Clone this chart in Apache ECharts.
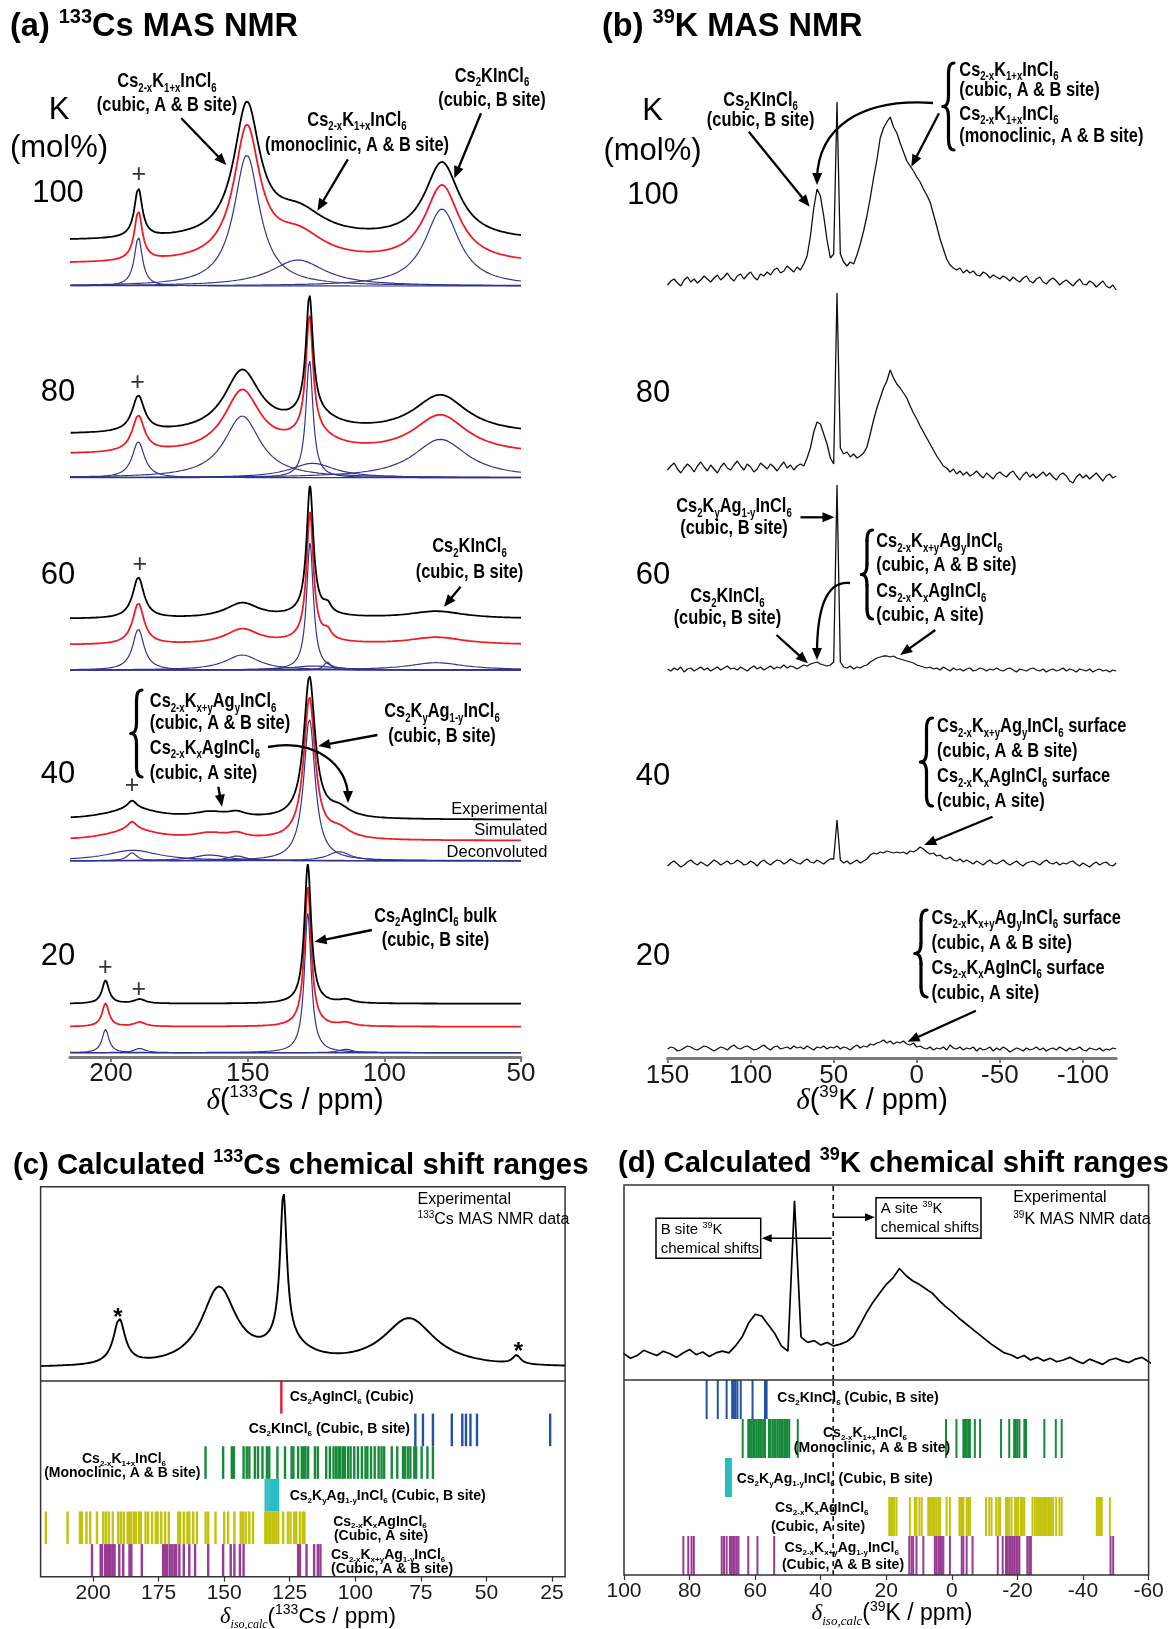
<!DOCTYPE html>
<html><head><meta charset="utf-8">
<script src="https://cdn.jsdelivr.net/npm/echarts@6/dist/echarts.min.js"></script>
<style>html,body{margin:0;padding:0;background:#fff;}#c{width:1169px;height:1629px;}</style>
</head><body><div id="c"></div>
<script>
// ===================== DATA =====================
const kComposition = ['100', '80', '60', '40', '20'];   // K content (mol%)

// 133Cs deconvolution components: [shift ppm, FWHM ppm, height]
const csPeaks100 = [[190, 3.5, 49], [150.3, 11.4, 131], [131.6, 24, 26], [78.9, 15.2, 77]];
const csPeaks80  = [[190, 5.4, 36], [152, 16, 61.7], [127.4, 3.1, 117.7], [126.2, 20, 14.4], [79.5, 24, 38.4]];
const csPeaks60  = [[190, 5, 41], [152, 15, 15], [127.2, 3, 127], [120.8, 3, 8], [126, 20, 4], [80.9, 25, 7.3]];
const csPeaks40  = [[192.3, 4, 8], [192, 23, 10.4], [163.8, 15, 5.7], [154, 8, 4.7], [127.4, 5, 141.4], [116.5, 10, 9]];
const csPeaks20  = [[202, 3, 23.3], [189.5, 5, 4.3], [128, 3, 139.3], [114, 6, 3.4]];
const csSideband = [[38.5, 3.5, 7]];          // extra spinning sideband seen in panel (c)

// 39K spectra: intensities every 2 ppm from 150 to -120 ppm
const kGridStart = 150, kGridStep = 2;
const kSpec100 = [3,7,9,5,2,8,11,6,9,5, 8,12,9,6,10,13,8,11,15,10, 7,12,14,9,13,16,11,8,14,12, 16,13,18,20,15,17,22,19,16,21,
  18,24,32,52,80,99,92,72,48,30, 34,186,34,26,22,26,24,33,44,57, 72,90,110,128,150,160,166,171,161,155, 145,136,127,122,117,111,106,99,93,86,
  74,62,49,39,29,23,20,18,20,15, 18,15,17,13,12,16,14,10,13,11, 9,12,10,7,11,8,6,10,12,7, 5,9,11,6,4,8,10,7,3,6, 8,5,2,6,9,4,3,7,5,1, 4,7,2,0,3,-2];
const kSpec80 = [8,12,15,9,5,10,14,11,6,12, 16,11,7,13,9,5,11,15,10,8, 13,17,12,8,14,11,6,9,15,12, 9,14,11,7,12,16,10,13,8,12,
  14,12,20,30,46,56,54,44,34,20, 14,185,30,24,26,21,24,20,22,25, 31,44,58,70,80,90,97,108,100,94, 90,85,80,72,65,59,52,46,40,34,
  28,22,17,12,10,6,9,4,7,3, 6,2,4,7,3,0,5,2,-1,4, 6,3,1,5,7,2,-2,3,6,1, 4,0,3,6,2,5,1,-2,3,5, 2,-3,-5,1,4,0,3,-1,2,5, 1,-3,2,4,0,2];
const kSpec60 = [1,-1,2,0,3,-2,1,2,-1,1, 3,0,2,-1,1,3,0,2,4,1, 2,0,3,1,-1,2,4,1,3,0, 2,4,1,3,2,5,2,4,3,1,
  3,5,4,6,7,8,6,5,4,5, 8,185,8,3,2,4,1,3,2,4, 5,8,10,12,13,14,14,13,14,12, 11,10,9,8,7,5,4,3,2,3,
  1,2,0,3,1,-1,2,0,1,-1, 1,2,-1,0,2,1,-1,1,0,2, 0,-1,1,2,0,-2,1,0,-1,1, 2,0,-1,1,-2,0,1,-1,0,2, -1,1,0,-2,1,0,-1,1,-2,0, 1,-1,0,-2,0,-1];
const kSpec40 = [-1,2,4,1,-2,0,3,5,2,0, 3,1,-1,2,5,3,0,2,4,1, 2,5,3,0,1,4,2,-1,3,5, 2,0,3,5,4,1,3,6,4,2,
  1,4,6,3,2,5,3,1,4,6, 6,45,5,2,4,1,3,5,2,4, 6,10,12,11,13,12,14,13,12,13, 12,13,11,14,13,15,18,16,13,11,
  12,9,10,7,6,8,5,4,6,3, 5,3,1,4,2,0,3,5,2,1, 3,5,2,0,2,4,1,-1,2,3, 4,2,0,3,5,2,1,3,0,2, 1,3,4,1,-1,2,0,-2,1,3, 0,2,3,0,-1,2];
const kSpec20 = [1,3,2,-1,0,2,4,3,1,0, 2,4,3,1,-1,1,3,2,0,3, 5,2,1,3,4,2,0,1,3,5, 2,0,3,4,1,2,3,1,4,2,
  3,1,4,2,0,3,2,4,1,3, 2,4,1,3,2,0,3,5,2,4, 3,6,5,7,8,10,7,9,6,8, 7,9,6,5,7,3,4,2,1,3,
  0,2,1,3,0,5,2,1,3,0, 2,1,3,-1,2,0,1,3,-1,2, 0,3,1,-2,0,2,1,-1,2,0, 1,3,0,2,-1,1,2,0,3,1, -1,2,0,1,3,0,-1,2,1,0, 2,-1,1,0,2,1];

// Tick labels
const csTicks = [200, 150, 100, 50];
const kTicks = [150, 100, 50, 0, -50, -100];
const calcCsTicks = [200, 175, 150, 125, 100, 75, 50, 25];
const calcKTicks = [100, 80, 60, 40, 20, 0, -20, -40, -60];

// Calculated 133Cs isotropic shifts (ppm)
const calcCsAgIn = [128.2];
const calcCsKIn = [77.1, 74.2, 70.4, 63.2, 59.2, 57.8, 56.1, 53.6, 25.7];
const calcCsMono = [157.1,150.4,147.1,146.3,142.6,141.4,140.4,138.3,137.1,135.4,133.7,132.8,129.7,126.8,124.3,123.6,121.8,120.4,119.7,119.0,118.0,115.4,114.3,111.1,109.7,108.3,107.3,106.4,105.7,104.7,104.0,102.8,101.8,100.4,99.0,97.5,96.1,95.4,94.0,92.6,91.1,90.0,89.0,86.1,84.0,81.8,81.1,80.0,79.0,77.5,76.8,74.7,72.5,70.4];
const calcCsKyAg = [134.2,133.4,132.6,131.8,131.0,130.2,129.4];
const calcCsKxAg = [218.0,209.7,205.0,204.3,202.5,201.1,198.5,196.1,195.1,194.0,192.5,190.4,189.4,188.3,186.8,186.1,185.4,184.3,183.7,182.5,181.8,180.0,179.0,177.5,176.1,175.4,174.0,172.5,171.1,167.5,166.8,165.4,164.0,163.3,161.8,160.4,157.1,156.1,153.3,150.0,148.5,146.1,143.7,142.8,141.8,140.4,139.0,134.3,133.7,132.8,132.3,131.4,130.8,130.0,129.4,127.5,125.7,124.7,123.3,122.5,121.1,120.0,119.4];
const calcCsKxyAg = [200.4,197.1,196.6,195.4,194.7,194.0,193.3,192.5,191.8,190.0,188.5,186.1,185.4,181.4,173.3,172.5,171.8,170.8,170.0,169.0,168.3,167.1,165.4,163.3,161.1,156.1,150.4,147.5,146.1,144.0,142.6,121.8,121.1,118.6,115.7,114.3,113.3];

// Calculated 39K isotropic shifts (ppm)
const calcKKIn = [74.8,71.4,68.7,67.0,66.5,66.0,65.4,64.4,60.8,57.0,56.5];
const calcKMono = [63.8,62.1,61.6,61.1,60.6,60.1,59.5,59.0,58.5,58.0,57.5,57.0,55.8,55.3,54.7,54.2,53.7,53.1,52.6,52.1,51.6,51.1,50.6,50.1,49.6,47.0,1.8,-1.4,-3.5,-4.0,-4.5,-5.0,-5.5,-7.0,-8.6,-15.0,-17.5,-19.0,-19.5,-20.0,-20.6,-22.1,-22.6,-28.2,-31.7,-33.5];
const calcKKyAg = [68.9,68.6,68.3,68.0,67.7,67.4];
const calcKKxAg = [19.1,18.6,18.1,17.6,16.9,12.8,11.3,10.8,9.9,9.2,7.2,6.7,6.2,5.7,5.2,4.7,4.1,3.6,1.6,0.6,-2.3,-2.7,-3.1,-3.5,-4.5,-5.0,-5.5,-10.4,-11.4,-12.1,-13.5,-14.2,-14.7,-16.5,-17.0,-17.5,-18.2,-19.3,-19.8,-20.3,-21.1,-21.6,-22.1,-24.6,-25.3,-25.9,-26.4,-26.9,-27.4,-27.9,-28.4,-28.9,-29.4,-29.9,-30.4,-30.9,-31.8,-32.8,-33.5,-44.2,-44.7,-45.2,-45.7,-48.2];
const calcKKxyAg = [81.9,80.4,79.4,78.7,70.2,69.5,68.7,67.7,67.2,66.7,66.2,65.6,65.1,62.1,59.3,54.2,13.0,12.3,11.8,10.8,8.7,5.2,4.7,4.1,3.6,3.1,2.6,0.6,-3.0,-3.5,-4.5,-6.3,-14.0,-15.5,-16.5,-17.0,-17.5,-18.0,-18.5,-19.0,-19.6,-20.1,-20.6,-23.0,-23.6,-24.1,-48.4,-49.2];
const kBoundary = 36.2;   // dashed B/A-site divider (ppm)

// ===================== LAYOUT / STYLE =====================
const L = {
  a: { left: 70, top: 40, width: 451, height: 1017, blueBase: [286, 477.7, 670, 860.7, 1052.7], redLift: [22, 23, 25, 20, 26], blackLift: [45, 43, 51, 41, 49] },
  b: { left: 667.5, top: 40, width: 448.7, height: 1018, base: [288, 478, 670, 865, 1050] },
  c: { left: 40.6, top: 1186.7, width: 524.5, hTop: 194.3, hBot: 195.7, base: 13, scale: 1.25 },
  d: { left: 624, top: 1185, width: 524.6, hTop: 195, hBot: 195, base: 16.5, scale: 0.88 }
};
const FS = "'Liberation Sans', Arial, Helvetica, sans-serif";
const SERIF = "'Liberation Serif', 'DejaVu Serif', serif";
const BLUE = '#34348f', RED = '#ee1c24';

function lor(p, x) { const d = (x - p[0]) / (p[1] / 2); return p[2] / (1 + d * d); }
function sumPeaks(ps, x) { let s = 0; for (const p of ps) s += lor(p, x); return s; }

const series = [];
// ---------- panel (a) ----------
const aX = []; for (let i = 0; i <= 660; i++) aX.push(50 + i * 0.25);
const csBlocks = [csPeaks100, csPeaks80, csPeaks60, csPeaks40, csPeaks20];
const aBottom = L.a.top + L.a.height;
csBlocks.forEach((peaks, i) => {
  const base = aBottom - L.a.blueBase[i];
  peaks.forEach(p => series.push({ type: 'line', xAxisIndex: 0, yAxisIndex: 0, showSymbol: false, silent: true,
    lineStyle: { color: BLUE, width: 1.2 }, data: aX.map(x => [x, base + lor(p, x)]) }));
});
csBlocks.forEach((peaks, i) => {
  const base = aBottom - L.a.blueBase[i];
  series.push({ type: 'line', xAxisIndex: 0, yAxisIndex: 0, showSymbol: false, silent: true,
    lineStyle: { color: RED, width: 1.8 }, data: aX.map(x => [x, base + L.a.redLift[i] + sumPeaks(peaks, x)]) });
  series.push({ type: 'line', xAxisIndex: 0, yAxisIndex: 0, showSymbol: false, silent: true,
    lineStyle: { color: '#000', width: 1.8 }, data: aX.map(x => [x, base + L.a.blackLift[i] + sumPeaks(peaks, x)]) });
});
// ---------- panel (b) ----------
const kSpectra = [kSpec100, kSpec80, kSpec60, kSpec40, kSpec20];
const bBottom = L.b.top + L.b.height;
kSpectra.forEach((spec, i) => {
  series.push({ type: 'line', xAxisIndex: 1, yAxisIndex: 1, showSymbol: false, silent: true,
    lineStyle: { color: '#111', width: 1.3 },
    data: spec.map((h, j) => [kGridStart - j * kGridStep, bBottom - L.b.base[i] + h]) });
});
// ---------- panel (c) ----------
const cX = []; for (let i = 0; i <= 800; i++) cX.push(20 + i * 0.25);
series.push({ type: 'line', xAxisIndex: 2, yAxisIndex: 2, showSymbol: false, silent: true,
  lineStyle: { color: '#000', width: 1.9 },
  data: cX.map(x => [x, L.c.base + L.c.scale * (sumPeaks(csPeaks80, x) + sumPeaks(csSideband, x))]) });
function stickSeries(xi, yi, vals, row, nRows, color, w) {
  return { type: 'custom', xAxisIndex: xi, yAxisIndex: yi, silent: true, data: vals.map(v => [v, row]),
    encode: { x: 0, y: 1 },
    renderItem: function (params, api) {
      const v = api.value(0);
      const p1 = api.coord([v, nRows - row]);
      const p2 = api.coord([v, nRows - row - 1]);
      return { type: 'line', shape: { x1: p1[0], y1: p1[1], x2: p2[0], y2: p2[1] }, style: { stroke: color, lineWidth: w } };
    } };
}
const C_RED = '#e41e26', C_BLUE = '#2252a3', C_GREEN = '#178a3a', C_CYAN = '#27bcc4', C_YEL = '#c3c20c', C_PUR = '#973c92';
series.push(stickSeries(3, 3, calcCsAgIn, 0, 6, C_RED, 2.4));
series.push(stickSeries(3, 3, calcCsKIn, 1, 6, C_BLUE, 2.4));
series.push(stickSeries(3, 3, calcCsMono, 2, 6, C_GREEN, 2.4));
series.push(stickSeries(3, 3, calcCsKyAg, 3, 6, C_CYAN, 2.2));
series.push(stickSeries(3, 3, calcCsKxAg, 4, 6, C_YEL, 2.4));
series.push(stickSeries(3, 3, calcCsKxyAg, 5, 6, C_PUR, 2.4));
// ---------- panel (d) ----------
series.push({ type: 'line', xAxisIndex: 4, yAxisIndex: 4, showSymbol: false, silent: true,
  lineStyle: { color: '#000', width: 1.7 },
  data: kSpec80.map((h, j) => [kGridStart - j * kGridStep, L.d.base + L.d.scale * h]) });
series.push(stickSeries(5, 5, calcKKIn, 0, 5, C_BLUE, 2));
series.push(stickSeries(5, 5, calcKMono, 1, 5, C_GREEN, 2));
series.push(stickSeries(5, 5, calcKKyAg, 2, 5, C_CYAN, 2));
series.push(stickSeries(5, 5, calcKKxAg, 3, 5, C_YEL, 2));
series.push(stickSeries(5, 5, calcKKxyAg, 4, 5, C_PUR, 2));
series.push({ type: 'line', xAxisIndex: 4, yAxisIndex: 4, showSymbol: false, silent: true,
  lineStyle: { color: '#000', width: 1.5, type: [5, 4] }, data: [[kBoundary, 0], [kBoundary, L.d.hTop]] });
series.push({ type: 'line', xAxisIndex: 5, yAxisIndex: 5, showSymbol: false, silent: true,
  lineStyle: { color: '#000', width: 1.5, type: [5, 4] }, data: [[kBoundary, 0], [kBoundary, 5]] });

// ===================== axes =====================
function visX(grid, min, max, ticks, lineCfg, fs, margin) {
  return { type: 'value', gridIndex: grid, min: min, max: max, inverse: true,
    axisLine: lineCfg, splitLine: { show: false },
    axisTick: { show: true, customValues: ticks, length: 5, inside: false, lineStyle: { color: lineCfg.show === false ? '#333' : '#7a7a7a', width: lineCfg.show === false ? 1.2 : 2 } },
    axisLabel: { customValues: ticks, fontSize: fs, color: '#1a1a1a', fontFamily: FS, margin: margin } };
}
const grayLine = { show: true, lineStyle: { color: '#7a7a7a', width: 3 } };
const xAxes = [
  visX(0, 50, 215, csTicks, grayLine, 26, 4),
  visX(1, -120, 150, kTicks, grayLine, 26, 5),
  { type: 'value', gridIndex: 2, min: 20, max: 220, inverse: true, show: false },
  visX(3, 20, 220, calcCsTicks, { show: false }, 21, 6),
  { type: 'value', gridIndex: 4, min: -60, max: 100, inverse: true, show: false },
  visX(5, -60, 100, calcKTicks, { show: false }, 21, 6)
];
const yAxes = [
  { type: 'value', gridIndex: 0, min: 0, max: L.a.height, show: false },
  { type: 'value', gridIndex: 1, min: 0, max: L.b.height, show: false },
  { type: 'value', gridIndex: 2, min: 0, max: L.c.hTop, show: false },
  { type: 'value', gridIndex: 3, min: 0, max: 6, show: false },
  { type: 'value', gridIndex: 4, min: 0, max: L.d.hTop, show: false },
  { type: 'value', gridIndex: 5, min: 0, max: 5, show: false }
];
const grids = [
  { left: L.a.left, top: L.a.top, width: L.a.width, height: L.a.height },
  { left: L.b.left, top: L.b.top, width: L.b.width, height: L.b.height },
  { left: L.c.left, top: L.c.top, width: L.c.width, height: L.c.hTop },
  { left: L.c.left, top: L.c.top + L.c.hTop, width: L.c.width, height: L.c.hBot },
  { left: L.d.left, top: L.d.top, width: L.d.width, height: L.d.hTop },
  { left: L.d.left, top: L.d.top + L.d.hTop, width: L.d.width, height: L.d.hBot }
];

// ===================== annotations =====================
function richFor(fs, fw, fam, fill) {
  const sf = Math.round(fs * 0.6), lh = Math.round(fs * 0.6);
  return {
    s: { fontSize: sf, fontFamily: fam, fontWeight: fw, fill: fill, lineHeight: lh, verticalAlign: 'bottom' },
    p: { fontSize: sf, fontFamily: fam, fontWeight: fw, fill: fill, lineHeight: lh, verticalAlign: 'top' },
    d: { fontSize: fs, fontFamily: SERIF, fontStyle: 'italic', fontWeight: 'normal', fill: fill, lineHeight: Math.round(fs * 1.2) },
    ds: { fontSize: Math.round(fs * 0.55), fontFamily: SERIF, fontStyle: 'italic', fontWeight: 'normal', fill: fill, lineHeight: lh, verticalAlign: 'bottom' }
  };
}
function conv(s) { return s.replace(/_\{([^}]*)\}/g, '{s|$1}').replace(/\^\{([^}]*)\}/g, '{p|$1}'); }
function txt(x, y, s, o) {
  o = o || {};
  const fs = o.fs || 20.5, fw = o.fw || 'bold', fam = o.fam || FS, fill = o.fill || '#000';
  return { type: 'text', x: x, y: y, scaleX: o.sx || 1, z: 100,
    style: { text: conv(s), fontSize: fs, fontFamily: fam, fontWeight: fw, fill: fill, align: o.align || 'center',
      verticalAlign: 'middle', lineHeight: Math.round(fs * 1.2), rich: richFor(fs, fw, fam, fill) } };
}
const ANN = { fs: 20.5, sx: 0.8 };
const ANNL = { fs: 20.5, sx: 0.8, align: 'left' };
function head(x1, y1, x2, y2, len, w) {
  const a = Math.atan2(y2 - y1, x2 - x1);
  const bx = x2 - len * Math.cos(a), by = y2 - len * Math.sin(a);
  const px = -Math.sin(a) * w, py = Math.cos(a) * w;
  return { type: 'polygon', z: 100, shape: { points: [[x2, y2], [bx + px, by + py], [bx - px, by - py]] }, style: { fill: '#000' } };
}
function arrow(x1, y1, x2, y2, lw, len, w) {
  lw = lw || 2.3; len = len || 12; w = w || 5;
  const a = Math.atan2(y2 - y1, x2 - x1);
  return [{ type: 'line', z: 100, shape: { x1: x1, y1: y1, x2: x2 - len * 0.7 * Math.cos(a), y2: y2 - len * 0.7 * Math.sin(a) }, style: { stroke: '#000', lineWidth: lw } },
    head(x1, y1, x2, y2, len, w)];
}
function curveArrow(p0, p1, p2, p3) {
  return [{ type: 'bezierCurve', z: 100, shape: { x1: p0[0], y1: p0[1], cpx1: p1[0], cpy1: p1[1], cpx2: p2[0], cpy2: p2[1], x2: p3[0], y2: p3[1] - 6 },
    style: { stroke: '#000', lineWidth: 2.3, fill: null } }, head(p2[0], p2[1], p3[0], p3[1], 12, 5)];
}
function brace(x, y1, y2, w) {
  const h = y2 - y1, ym = (y1 + y2) / 2, xm = x + w / 2, k = h * 0.12;
  const st = { stroke: '#000', lineWidth: 3.2, fill: null, lineCap: 'round' };
  return [
    { type: 'bezierCurve', z: 100, shape: { x1: x + w, y1: y1, cpx1: xm, cpy1: y1, x2: xm, y2: y1 + k }, style: st },
    { type: 'line', z: 100, shape: { x1: xm, y1: y1 + k, x2: xm, y2: ym - k }, style: st },
    { type: 'bezierCurve', z: 100, shape: { x1: xm, y1: ym - k, cpx1: xm, cpy1: ym, x2: x, y2: ym }, style: st },
    { type: 'bezierCurve', z: 100, shape: { x1: x, y1: ym, cpx1: xm, cpy1: ym, x2: xm, y2: ym + k }, style: st },
    { type: 'line', z: 100, shape: { x1: xm, y1: ym + k, x2: xm, y2: y2 - k }, style: st },
    { type: 'bezierCurve', z: 100, shape: { x1: xm, y1: y2 - k, cpx1: xm, cpy1: y2, x2: x + w, y2: y2 }, style: st }
  ];
}
const G = [];
// titles
G.push(txt(10, 27, '(a) ^{133}Cs MAS NMR', { fs: 32.5, align: 'left' }));
G.push(txt(602, 27, '(b) ^{39}K MAS NMR', { fs: 32.5, align: 'left' }));
G.push(txt(13, 1166, '(c) Calculated ^{133}Cs chemical shift ranges', { fs: 29.3, align: 'left' }));
G.push(txt(618, 1164, '(d) Calculated ^{39}K chemical shift ranges', { fs: 29.3, align: 'left' }));
// composition labels
const aCompY = [193, 392.7, 575, 774, 956], bCompY = [195, 393.3, 575, 776.7, 956.7];
G.push(txt(59, 110, 'K', { fs: 31, fw: 'normal' }), txt(59, 148, '(mol%)', { fs: 31, fw: 'normal' }));
G.push(txt(652.5, 111.7, 'K', { fs: 31, fw: 'normal' }), txt(652.5, 151.7, '(mol%)', { fs: 31, fw: 'normal' }));
kComposition.forEach((c, i) => {
  G.push(txt(58, aCompY[i], c, { fs: 31, fw: 'normal' }));
  G.push(txt(653, bCompY[i], c, { fs: 31, fw: 'normal' }));
});
// '+' markers
[[138.7, 175], [137.6, 383.3], [139.8, 565], [132, 786], [105.4, 968.3], [138.7, 990]].forEach(p =>
  G.push(txt(p[0], p[1], '+', { fs: 25, fw: 'normal', fill: '#333' })));
// panel (a) annotations
G.push(txt(167, 81.7, 'Cs_{2-x}K_{1+x}InCl_{6}', ANN), txt(167, 105, '(cubic, A & B site)', ANN));
G.push(txt(357, 120, 'Cs_{2-x}K_{1+x}InCl_{6}', ANN), txt(357, 145, '(monoclinic, A & B site)', ANN));
G.push(txt(492, 76, 'Cs_{2}KInCl_{6}', ANN), txt(492, 100, '(cubic, B site)', ANN));
G.push(txt(469.5, 546.7, 'Cs_{2}KInCl_{6}', ANN), txt(469.5, 572.7, '(cubic, B site)', ANN));
G.push(txt(149.8, 701.7, 'Cs_{2-x}K_{x+y}Ag_{y}InCl_{6}', ANNL), txt(149.8, 723.3, '(cubic, A & B site)', ANNL),
  txt(149.8, 748.3, 'Cs_{2-x}K_{x}AgInCl_{6}', ANNL), txt(149.8, 773.3, '(cubic, A site)', ANNL));
G.push(txt(442, 711.7, 'Cs_{2}K_{y}Ag_{1-y}InCl_{6}', ANN), txt(442, 736.7, '(cubic, B site)', ANN));
G.push(txt(435.5, 916, 'Cs_{2}AgInCl_{6} bulk', ANN), txt(435.5, 940.7, '(cubic, B site)', ANN));
G.push(txt(547.5, 809, 'Experimental', { fs: 16.5, fw: 'normal', align: 'right' }),
  txt(547.5, 830.7, 'Simulated', { fs: 16.5, fw: 'normal', align: 'right' }),
  txt(547.5, 852.3, 'Deconvoluted', { fs: 16.5, fw: 'normal', align: 'right' }));
G.push(...arrow(181.3, 118.3, 226.4, 165), ...arrow(347.8, 159.3, 317.4, 210.7), ...arrow(481, 113.3, 454.3, 178.3),
  ...arrow(460.6, 586.7, 444, 606.7), ...arrow(218.3, 786.7, 222, 806.7), ...arrow(377.4, 735, 318.2, 746),
  ...arrow(371.8, 930, 314.5, 941.7));
G.push(...curveArrow([268, 747], [315, 738], [348, 765], [348, 803]));
G.push(...brace(131, 690, 777, 11));
// panel (b) annotations
G.push(txt(760.6, 100, 'Cs_{2}KInCl_{6}', ANN), txt(760.6, 120, '(cubic, B site)', ANN));
G.push(txt(959.3, 70, 'Cs_{2-x}K_{1+x}InCl_{6}', ANNL), txt(959.3, 90, '(cubic, A & B site)', ANNL),
  txt(959.3, 114, 'Cs_{2-x}K_{1+x}InCl_{6}', ANNL), txt(959.3, 136.7, '(monoclinic, A & B site)', ANNL));
G.push(txt(734, 506.7, 'Cs_{2}K_{y}Ag_{1-y}InCl_{6}', ANN), txt(734, 528.3, '(cubic, B site)', ANN));
G.push(txt(727.4, 596.7, 'Cs_{2}KInCl_{6}', ANN), txt(727.4, 618.3, '(cubic, B site)', ANN));
G.push(txt(876.2, 541.7, 'Cs_{2-x}K_{x+y}Ag_{y}InCl_{6}', ANNL), txt(876.2, 565, '(cubic, A & B site)', ANNL),
  txt(876.2, 591.7, 'Cs_{2-x}K_{x}AgInCl_{6}', ANNL), txt(876.2, 615, '(cubic, A site)', ANNL));
[[937.1, 726.7], [931.6, 918.3]].forEach(p => {
  G.push(txt(p[0], p[1], 'Cs_{2-x}K_{x+y}Ag_{y}InCl_{6} surface', ANNL), txt(p[0], p[1] + 25, '(cubic, A & B site)', ANNL),
    txt(p[0], p[1] + 50, 'Cs_{2-x}K_{x}AgInCl_{6} surface', ANNL), txt(p[0], p[1] + 75, '(cubic, A site)', ANNL));
});
G.push(...arrow(748.8, 131.7, 809.7, 206.7), ...arrow(939, 113.3, 911.3, 166.7), ...arrow(800.5, 517.3, 834.5, 517.3),
  ...arrow(776.5, 635, 807.9, 663.3), ...arrow(935.3, 630, 900.2, 655), ...arrow(992.5, 816.7, 924.2, 845),
  ...arrow(975.9, 1010.7, 907.6, 1041.7));
G.push(...curveArrow([933, 103], [860, 98], [818, 128], [817, 185]));
G.push(...curveArrow([850, 583], [825, 580], [817, 612], [817, 660]));
G.push(...brace(943, 63, 150, 11), ...brace(861.5, 530, 619, 11), ...brace(920.5, 718, 806, 12), ...brace(915, 910, 997, 12));
// axis titles
G.push(txt(295, 1101, '{d|δ}(^{133}Cs / ppm)', { fs: 29, fw: 'normal' }));
G.push(txt(872, 1101, '{d|δ}(^{39}K / ppm)', { fs: 29, fw: 'normal' }));
G.push(txt(308, 1617, '{d|δ}{ds|iso,calc}(^{133}Cs / ppm)', { fs: 22.5, fw: 'normal' }));
G.push(txt(892, 1614, '{d|δ}{ds|iso,calc}(^{39}K / ppm)', { fs: 23, fw: 'normal' }));
// frames (c), (d)
[[L.c, 390], [L.d, 390]].forEach(([p, h]) => {
  G.push({ type: 'rect', z: 90, shape: { x: p.left, y: p.top, width: p.width, height: h }, style: { stroke: '#333', lineWidth: 1.5, fill: null } });
  G.push({ type: 'line', z: 90, shape: { x1: p.left, y1: p.top + p.hTop, x2: p.left + p.width, y2: p.top + p.hTop }, style: { stroke: '#333', lineWidth: 1.5 } });
});
// panel (c) texts
const SL = { fs: 14, align: 'left' }, SC = { fs: 14 }, SR = { fs: 14, align: 'right' };
G.push(txt(417.6, 1199.3, 'Experimental', { fs: 16, fw: 'normal', align: 'left' }), txt(417.6, 1220, '^{133}Cs MAS NMR data', { fs: 16, fw: 'normal', align: 'left' }));
G.push(txt(117.8, 1318, '*', { fs: 24 }), txt(518.4, 1352, '*', { fs: 24 }));
G.push(txt(289.7, 1397.3, 'Cs_{2}AgInCl_{6} (Cubic)', SL));
G.push(txt(410, 1429.3, 'Cs_{2}KInCl_{6} (Cubic, B site)', SR));
G.push(txt(124, 1459, 'Cs_{2-x}K_{1+x}InCl_{6}', SC), txt(122.3, 1473, '(Monoclinic, A & B site)', SC));
G.push(txt(289.7, 1496, 'Cs_{2}K_{y}Ag_{1-y}InCl_{6} (Cubic, B site)', SL));
G.push(txt(380, 1521.7, 'Cs_{2-x}K_{x}AgInCl_{6}', SC), txt(381, 1535.7, '(Cubic, A site)', SC));
G.push(txt(331, 1555, 'Cs_{2-x}K_{x+y}Ag_{1-y}InCl_{6}', SL), txt(331, 1569, '(Cubic, A & B site)', SL));
// panel (d) texts
G.push(txt(1013.3, 1197.7, 'Experimental', { fs: 16, fw: 'normal', align: 'left' }), txt(1013.3, 1219.3, '^{39}K MAS NMR data', { fs: 16, fw: 'normal', align: 'left' }));
G.push({ type: 'rect', z: 95, shape: { x: 656, y: 1218.3, width: 104.7, height: 40 }, style: { stroke: '#000', lineWidth: 1.5, fill: '#fff' } });
G.push({ type: 'rect', z: 95, shape: { x: 876, y: 1197.7, width: 105, height: 40.6 }, style: { stroke: '#000', lineWidth: 1.5, fill: '#fff' } });
G.push(txt(660.7, 1230, 'B site ^{39}K', { fs: 15, fw: 'normal', align: 'left' }), txt(660.7, 1248.5, 'chemical shifts', { fs: 15, fw: 'normal', align: 'left' }));
G.push(txt(880.7, 1209, 'A site ^{39}K', { fs: 15, fw: 'normal', align: 'left' }), txt(880.7, 1227.5, 'chemical shifts', { fs: 15, fw: 'normal', align: 'left' }));
G.push(...arrow(831.7, 1238.3, 761.7, 1238.3, 1.6, 10, 4), ...arrow(834, 1217.3, 875, 1217.3, 1.6, 10, 4));
G.push(txt(777.3, 1398.3, 'Cs_{2}KInCl_{6} (Cubic, B site)', SL));
G.push(txt(865, 1433.3, 'Cs_{2-x}K_{1+x}InCl_{6}', SC), txt(872, 1448.3, '(Monoclinic, A & B site)', SC));
G.push(txt(736.7, 1479, 'Cs_{2}K_{y}Ag_{1-y}InCl_{6} (Cubic, B site)', SL));
G.push(txt(821.7, 1508.3, 'Cs_{2-x}K_{x}AgInCl_{6}', SC), txt(818, 1526.7, '(Cubic, A site)', SC));
G.push(txt(841.7, 1548.3, 'Cs_{2-x}K_{x+y}Ag_{1-y}InCl_{6}', SC), txt(843, 1565, '(Cubic, A & B site)', SC));

const chart = echarts.init(document.getElementById('c'), null, { renderer: 'canvas' });
chart.setOption({
  animation: false,
  backgroundColor: '#fff',
  grid: grids,
  xAxis: xAxes,
  yAxis: yAxes,
  series: series,
  graphic: { elements: G }
});
</script></body></html>
